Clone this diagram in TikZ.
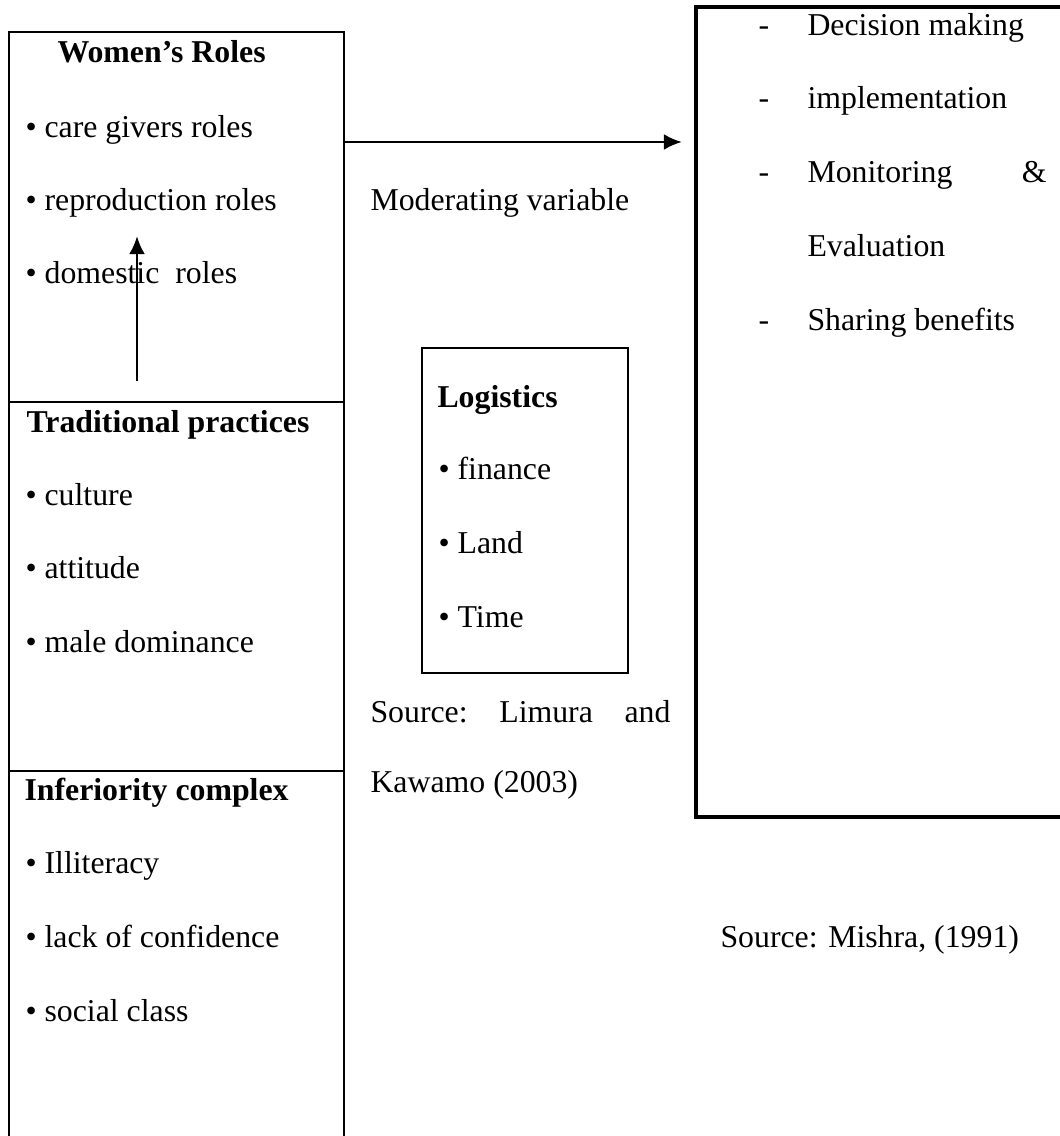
\documentclass[tikz,border=0pt]{standalone}
\usepackage{fontspec}
\setmainfont{Liberation Serif}
\usetikzlibrary{fit,arrows.meta}

\begin{document}
\begin{tikzpicture}[x=0.3774pt,y=-0.3774pt,font=\fontsize{12pt}{14pt}\selectfont]
\tikzstyle{box}=[draw,line width=0.9pt,inner sep=0pt]
\tikzstyle{bigbox}=[draw,line width=1.3pt,inner sep=0pt]
\tikzstyle{txt}=[anchor=base west,inner sep=0pt]
\tikzstyle{conn}=[line width=1.1pt,-{Latex[length=6.8pt,width=6pt]}]

\useasboundingbox (0,0) rectangle (1060,1136);
\clip (0,0) rectangle (1060,1136);

% left column
\node (roles) [box, fit={(9,32) (344,402)}] {};
\node (trad) [box, fit={(9,402) (344,771)}] {};
\node (infer) [box, fit={(9,771) (344,1170)}] {};

\node (rolesT) [txt] at (57,63) {\textbf{Women’s Roles}};
\node (r1) [txt] at (25,137) {• care givers roles};
\node (r2) [txt] at (25,210) {• reproduction roles};
\node (r3) [txt] at (25,283) {• domestic\ \ roles};

\node (tradT) [txt] at (26,432) {\textbf{Traditional practices}};
\node (t1) [txt] at (25,505) {• culture};
\node (t2) [txt] at (25,578) {• attitude};
\node (t3) [txt] at (25,652) {• male dominance};

\node (inferT) [txt] at (24,800) {\textbf{Inferiority complex}};
\node (i1) [txt] at (25,873) {• Illiteracy};
\node (i2) [txt] at (25,947) {• lack of confidence};
\node (i3) [txt] at (25,1021) {• social class};

% middle
\node (mod) [txt] at (370,210) {Moderating variable};

\node (logi) [box, fit={(422,348) (628,673)}] {};
\node (logiT) [txt] at (437,407) {\textbf{Logistics}};
\node (l1) [txt] at (438,479) {• finance};
\node (l2) [txt] at (438,553) {• Land};
\node (l3) [txt] at (438,627) {• Time};

\node (src1) [txt,text width=300*0.3774pt] at (370,722) {Source:\hfill Limura\hfill and};
\node (src1b) [txt] at (370,792) {Kawamo (2003)};

% right
\node (part) [bigbox, fit={(696,7) (1090,817)}] {};
\node (p1) [txt] at (758,35) {-};
\node (p1t) [txt] at (807,35) {Decision making};
\node (p2) [txt] at (758,108) {-};
\node (p2t) [txt] at (807,108) {implementation};
\node (p3) [txt] at (758,182) {-};
\node (p3t) [txt,text width=239*0.3774pt] at (807,182) {Monitoring\hfill \&};
\node (p3b) [txt] at (807,256) {Evaluation};
\node (p4) [txt] at (758,330) {-};
\node (p4t) [txt] at (807,330) {Sharing benefits};

\node (src2) [txt] at (720,947) {Source: Mishra, (1991)};

% arrows
\coordinate (h0) at (roles.east |- 0,142);
\coordinate (h1) at (682,142);
\draw [conn] (h0) -- (h1);

\coordinate (v0) at (137,381);
\coordinate (v1) at (137,236);
\draw [conn] (v0) -- (v1);

\end{tikzpicture}
\end{document}
